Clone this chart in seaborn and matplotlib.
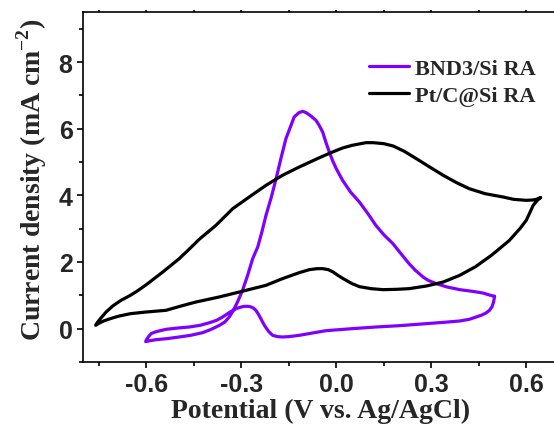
import matplotlib
matplotlib.use("Agg")
import matplotlib.pyplot as plt
import numpy as np
import pandas as pd
import seaborn as sns
from matplotlib.ticker import MultipleLocator

# Cyclic voltammograms, potential (V vs. Ag/AgCl) and current density (mA cm^-2)
bnd3_potential = [
    0.500, 0.480, 0.463, 0.430, 0.390, 0.350, 0.316, 0.290, 0.274, 0.250,
    0.230, 0.200, 0.179, 0.150, 0.125, 0.100, 0.073, 0.045, 0.020, 0.000,
    -0.012, -0.022, -0.033, -0.043, -0.054, -0.064, -0.080, -0.095, -0.106, -0.118,
    -0.133, -0.145, -0.159, -0.175, -0.190, -0.205, -0.222, -0.235, -0.248, -0.264,
    -0.280, -0.296, -0.312, -0.325, -0.338, -0.352, -0.369, -0.395, -0.422, -0.460,
    -0.496, -0.535, -0.569, -0.588, -0.598, -0.602, -0.600, -0.593, -0.585, -0.572,
    -0.560, -0.538, -0.500, -0.464, -0.430, -0.400, -0.378, -0.359, -0.335, -0.317,
    -0.300, -0.290, -0.280, -0.272, -0.262, -0.254, -0.247, -0.240, -0.227, -0.214,
    -0.201, -0.185, -0.170, -0.150, -0.117, -0.075, -0.032, 0.050, 0.126, 0.200,
    0.284, 0.340, 0.390, 0.420, 0.442, 0.460, 0.473, 0.484, 0.492, 0.497,
    0.500,
]
bnd3_current = [
    0.97, 1.02, 1.07, 1.12, 1.17, 1.25, 1.35, 1.45, 1.55, 1.75,
    1.95, 2.30, 2.55, 2.82, 3.10, 3.45, 3.80, 4.10, 4.45, 4.80,
    5.05, 5.30, 5.60, 5.90, 6.10, 6.25, 6.38, 6.48, 6.52, 6.48,
    6.35, 6.05, 5.70, 5.10, 4.50, 3.95, 3.40, 2.90, 2.45, 2.10,
    1.60, 1.15, 0.80, 0.55, 0.35, 0.20, 0.10, -0.02, -0.12, -0.20,
    -0.25, -0.30, -0.33, -0.36, -0.38, -0.39, -0.34, -0.24, -0.15, -0.10,
    -0.07, -0.02, 0.02, 0.05, 0.10, 0.18, 0.25, 0.35, 0.50, 0.60,
    0.65, 0.67, 0.67, 0.66, 0.62, 0.55, 0.45, 0.33, 0.10, -0.08,
    -0.20, -0.24, -0.25, -0.24, -0.20, -0.13, -0.06, 0.00, 0.05, 0.09,
    0.15, 0.19, 0.23, 0.28, 0.35, 0.41, 0.47, 0.55, 0.66, 0.80,
    0.97,
]

ptc_potential = [
    0.645, 0.632, 0.620, 0.600, 0.560, 0.527, 0.470, 0.420, 0.380, 0.338,
    0.295, 0.253, 0.215, 0.180, 0.150, 0.117, 0.094, 0.050, 0.020, -0.012,
    -0.060, -0.117, -0.170, -0.222, -0.275, -0.327, -0.380, -0.433, -0.465, -0.496,
    -0.548, -0.600, -0.630, -0.654, -0.680, -0.706, -0.727, -0.745, -0.755, -0.760,
    -0.757, -0.748, -0.735, -0.720, -0.700, -0.685, -0.650, -0.600, -0.538, -0.490,
    -0.443, -0.370, -0.306, -0.222, -0.170, -0.117, -0.085, -0.060, -0.042, -0.025,
    -0.010, 0.005, 0.022, 0.050, 0.073, 0.110, 0.148, 0.190, 0.230, 0.285,
    0.338, 0.390, 0.440, 0.490, 0.546, 0.580, 0.600, 0.610, 0.622, 0.635,
    0.645,
]
ptc_current = [
    3.93, 3.88, 3.86, 3.85, 3.88, 3.95, 4.05, 4.20, 4.38, 4.60,
    4.85, 5.10, 5.32, 5.48, 5.55, 5.58, 5.58, 5.50, 5.42, 5.30,
    5.10, 4.85, 4.60, 4.30, 3.95, 3.60, 3.10, 2.68, 2.38, 2.10,
    1.70, 1.32, 1.12, 0.98, 0.85, 0.68, 0.50, 0.30, 0.18, 0.10,
    0.12, 0.17, 0.23, 0.28, 0.34, 0.38, 0.45, 0.50, 0.55, 0.68,
    0.80, 0.95, 1.10, 1.30, 1.50, 1.68, 1.77, 1.80, 1.80, 1.77,
    1.70, 1.60, 1.50, 1.35, 1.26, 1.20, 1.17, 1.18, 1.20, 1.28,
    1.40, 1.60, 1.86, 2.20, 2.64, 3.00, 3.25, 3.45, 3.70, 3.85,
    3.93,
]

series_names = ["BND3/Si RA", "Pt/C@Si RA"]
series_colors = ["#8000FF", "#000000"]

df = pd.concat([
    pd.DataFrame({"E": bnd3_potential, "j": bnd3_current, "sample": series_names[0]}),
    pd.DataFrame({"E": ptc_potential, "j": ptc_current, "sample": series_names[1]}),
], ignore_index=True)

sns.set_style("ticks")
plt.rcParams["font.family"] = ["Liberation Sans", "DejaVu Sans"]
plt.rcParams["mathtext.fontset"] = "custom"
plt.rcParams["mathtext.rm"] = "Liberation Serif:bold"
plt.rcParams["mathtext.bf"] = "Liberation Serif:bold"

fig = plt.figure(figsize=(5.54, 4.31), dpi=100)
ax = fig.add_axes([0.1498, 0.1578, 1.007 - 0.1498, 0.9698 - 0.1578])

sns.lineplot(data=df, x="E", y="j", hue="sample", palette=series_colors,
             hue_order=series_names, sort=False, estimator=None, units="sample",
             lw=2.3, ax=ax, legend=True)
for ln in ax.lines:
    ln.set_solid_joinstyle("round")
    ln.set_solid_capstyle("round")

ax.set_xlim(-0.8, 0.7)
ax.set_ylim(-1.0, 9.5)
ax.xaxis.set_minor_locator(MultipleLocator(0.15))
ax.yaxis.set_minor_locator(MultipleLocator(1))
ax.set_xticks([-0.6, -0.3, 0.0, 0.3, 0.6])
ax.set_xticklabels(["-0.6", "-0.3", "0.0", "0.3", "0.6"])
ax.set_yticks([0, 2, 4, 6, 8])
ax.set_yticklabels(["0", "2", "4", "6", "8"])

for s in ax.spines.values():
    s.set_linewidth(1.2)
    s.set_color("black")

ax.tick_params(which="major", direction="out", length=4.5, width=1.2, color="black",
               labelsize=18, pad=3)
ax.tick_params(which="minor", direction="out", length=3, width=1.2, color="black")
ax.xaxis.set_tick_params(which="both", top=True)
for t in ax.xaxis.get_major_ticks() + ax.xaxis.get_minor_ticks():
    t.tick2line.set_markersize(1.2)
for lab in ax.get_xticklabels() + ax.get_yticklabels():
    lab.set_fontweight("bold")

serif = ["Liberation Serif", "DejaVu Serif"]
ax.set_xlabel("Potential (V vs. Ag/AgCl)", fontsize=20, fontweight="bold",
              family=serif, labelpad=1)
ax.set_ylabel(r"Current density (mA cm$^{\mathbf{-2}}$)", fontsize=20,
              fontweight="bold", family=serif, labelpad=7)
ax.yaxis.label.set_y(0.525)

leg = ax.legend(loc="upper left", bbox_to_anchor=(369 / 554, 1 - 59 / 431),
                bbox_transform=fig.transFigure, frameon=False,
                handlelength=1.8, handletextpad=0.25, labelspacing=0.3,
                borderpad=0, borderaxespad=0,
                prop={"family": serif, "weight": "bold", "size": 16})
for line in leg.get_lines():
    line.set_linewidth(2.3)

fig.savefig("out.png", dpi=100)
